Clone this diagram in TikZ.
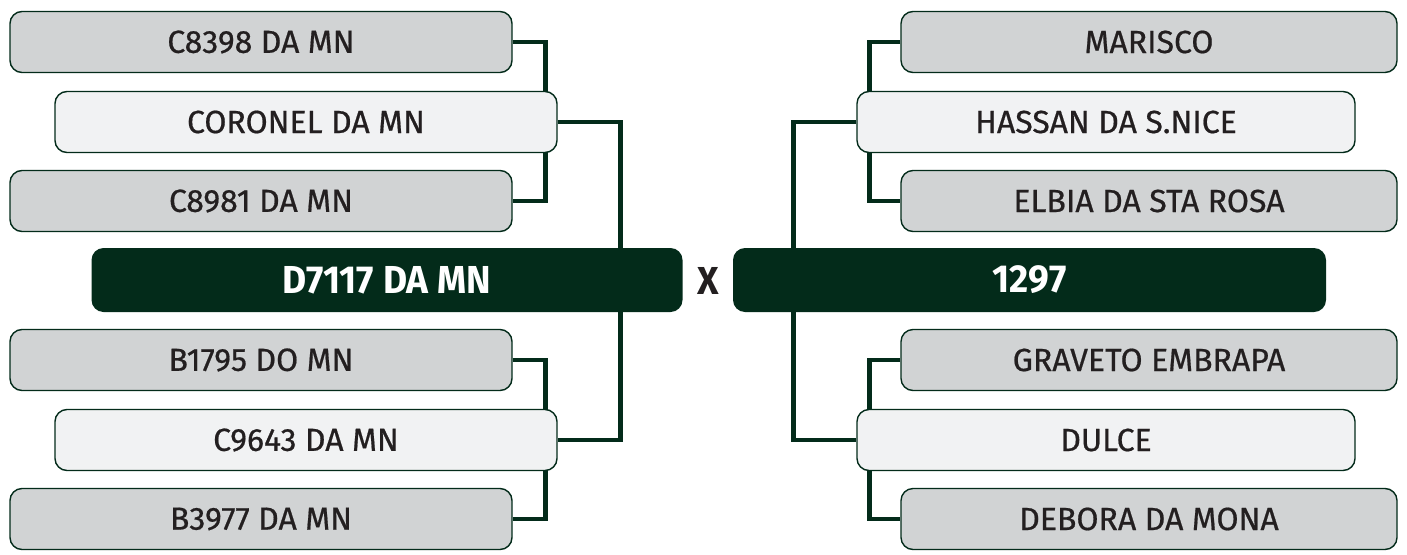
\documentclass[tikz,border=0pt]{standalone}
\usepackage{fontspec}
\setmainfont{Fira Sans}[UprightFeatures={FakeBold=0.6},BoldFeatures={FakeStretch=0.95}]
\usetikzlibrary{backgrounds}
\definecolor{PineDark}{RGB}{3,43,26}
\definecolor{CardGrey}{RGB}{209,211,212}
\definecolor{CardLight}{RGB}{241,242,243}
\definecolor{InkDark}{RGB}{35,31,32}
\tikzset{
  link/.style={line width=4.5pt,draw=PineDark},
  card/.style={draw=PineDark,line width=1.4pt,fill=CardGrey,rounded corners=12pt,
    minimum height=61pt,inner sep=0pt,text=InkDark,font=\fontsize{32}{32}\selectfont},
  lightcard/.style={card,fill=CardLight},
  finalist/.style={fill=PineDark,rounded corners=12pt,minimum height=64pt,inner sep=0pt,
    text=white,font=\fontsize{39}{39}\selectfont\bfseries}
}

\begin{document}
\begin{tikzpicture}[x=1pt,y=-1pt]
  \useasboundingbox (0,0) rectangle (1407,554);
  \node[card,minimum width=502pt] (l1) at (261,42) {C8398 DA MN};
  \node[lightcard,minimum width=502pt] (l2) at (306,122) {CORONEL DA MN};
  \node[card,minimum width=502pt] (l3) at (261,201) {C8981 DA MN};
  \node[finalist,minimum width=591pt] (lbar) at (387,280) {D7117 DA MN};
  \node[card,minimum width=502pt] (l4) at (261,360) {B1795 DO MN};
  \node[lightcard,minimum width=502pt] (l5) at (306,440) {C9643 DA MN};
  \node[card,minimum width=502pt] (l6) at (261,519) {B3977 DA MN};
  \node[text=InkDark,font=\fontsize{39}{39}\selectfont\bfseries] (versus) at (708,281) {X};
  \node[card,minimum width=496pt] (r1) at (1149,42) {MARISCO};
  \node[lightcard,minimum width=498pt] (r2) at (1106,122) {HASSAN DA S.NICE};
  \node[card,minimum width=496pt] (r3) at (1149,201) {ELBIA DA STA ROSA};
  \node[finalist,minimum width=593pt] (rbar) at (1029.5,280) {1297};
  \node[card,minimum width=496pt] (r4) at (1149,360) {GRAVETO EMBRAPA};
  \node[lightcard,minimum width=498pt] (r5) at (1106,440) {DULCE};
  \node[card,minimum width=496pt] (r6) at (1149,519) {DEBORA DA MONA};
  \begin{scope}[on background layer]
    \draw[link] (l1.east) -- ++(33,0) |- (l3.east);
    \draw[link] (l4.east) -- ++(33,0) |- (l6.east);
    \draw[link] (l2.east) -- ++(63,0) |- (l5.east);
    \draw[link] (r1.west) -- ++(-31,0) |- (r3.west);
    \draw[link] (r4.west) -- ++(-31,0) |- (r6.west);
    \draw[link] (r2.west) -- ++(-63,0) |- (r5.west);
  \end{scope}
\end{tikzpicture}
\end{document}
